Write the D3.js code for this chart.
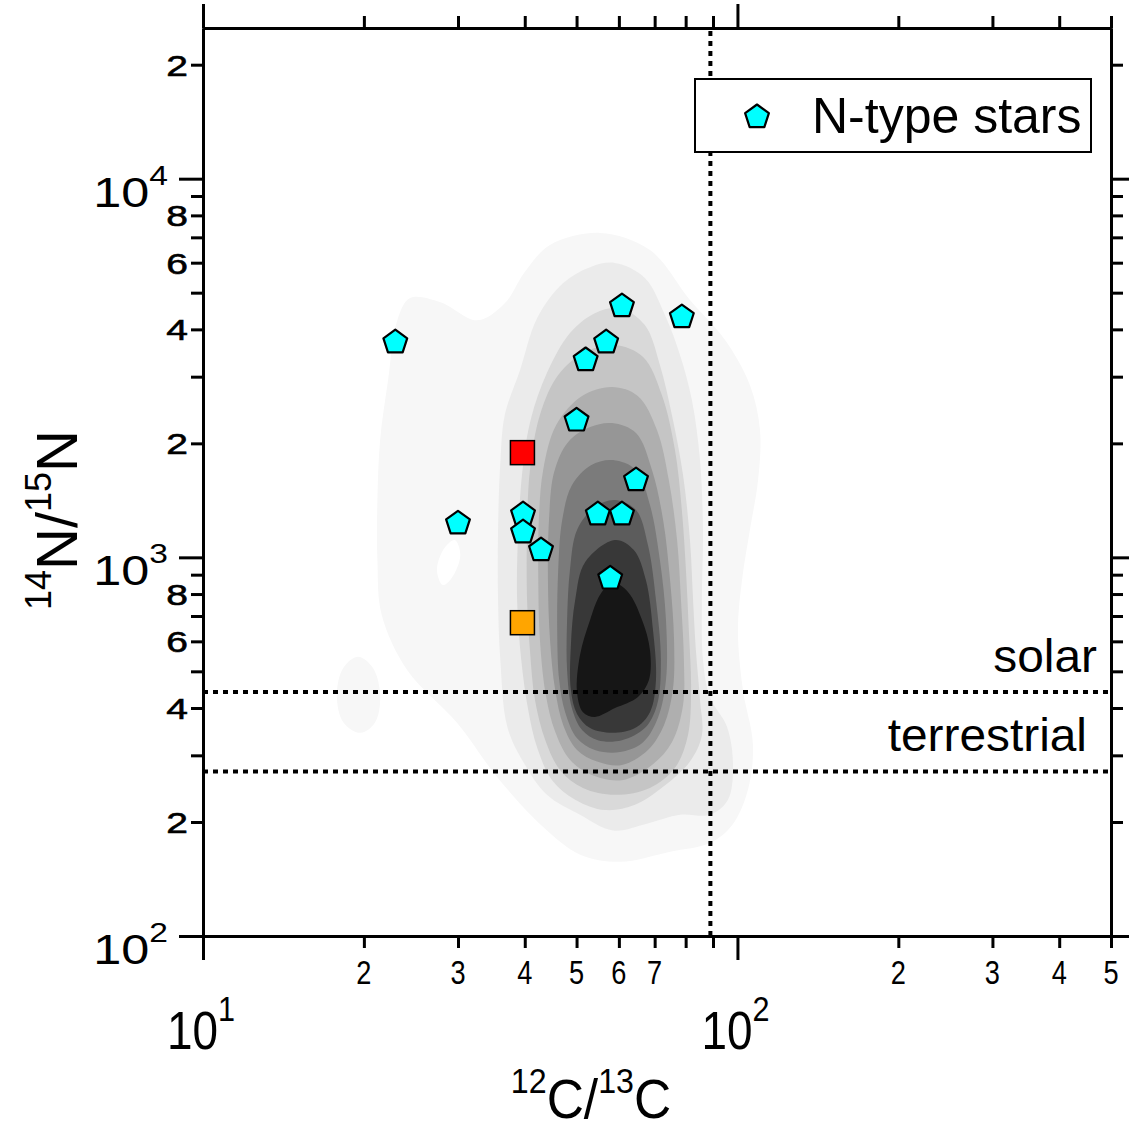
<!DOCTYPE html>
<html><head><meta charset="utf-8">
<script src="https://cdn.jsdelivr.net/npm/d3@7"></script>
<style>
body{margin:0;background:#fff}
svg{display:block}
text{font-family:"Liberation Sans",Arial,sans-serif;fill:#000}
</style>
</head><body>
<svg id="chart" width="1129" height="1131"></svg>
<script>
// ---------- data ----------
// N-type stars: 12C/13C and 14N/15N
const starC = [22.9, 30.0, 39.7, 39.7, 42.9, 50.0, 52.0, 56.8, 60.8, 78.7, 54.8, 60.8, 64.6, 57.8];
const starN = [3700, 1230, 1300, 1165, 1045, 2300, 3320, 3700, 4610, 4310, 1300, 1300, 1600, 880];
// two individual objects (squares)
const squareC = [39.6, 39.6];
const squareN = [1890, 672];
const squareColors = ["#ff0000", "#ffa500"];
// reference ratios
const solarC = 89;
const solarN = 441;
const terrestrialN = 272;
// axis ticks
const xMajor = [10, 100];
const xMinor = [20,30,40,50,60,70,80,90,200,300,400,500];
const xMinorLabelVals = [20,30,40,50,60,70,200,300,400,500];
const xMinorLabelText = ["2","3","4","5","6","7","2","3","4","5"];
const xMajorExp = ["1","2"];
const yMajor = [100, 1000, 10000];
const yMinor = [200,300,400,500,600,700,800,900,2000,3000,4000,5000,6000,7000,8000,9000,20000];
const yMinorLabelVals = [200,400,600,800,2000,4000,6000,8000,20000];
const yMinorLabelText = ["2","4","6","8","2","4","6","8","2"];
const yMajorExp = ["2","3","4"];

// density contour levels (outer -> inner), vertices as [12C/13C, 14N/15N]
const level1 = [[55.3,7190],[68.6,6480],[81.5,4780],[94.8,3750],[105.5,2850],[110.2,2168],[109.3,1600],[105.5,1181],[102,871],[100.2,643],[102.4,446],[106.9,320],[104.6,243],[97.7,196],[88.8,176],[74.8,167],[60.3,157],[50.8,164],[43.3,194],[35.5,263],[29.9,365],[24.1,504],[21.6,704],[21.2,984],[21.2,1417],[21.45,2040],[22.2,2940],[23.1,4230],[24.4,4840],[27.8,4720],[32.6,4230],[36.7,4690],[40.0,5670],[44.6,6680]];
const level1Blob = [[19.5,546],[20.8,510],[21.45,433],[21.0,367],[19.7,344],[18.3,367],[17.8,433],[18.3,510]];
const level1Hole = [[29.6,1111],[30.3,1014],[29.2,882],[28.1,845],[27.4,926],[28.3,1058]];
const level2 = [[59.0,5990],[67.1,5470],[73.2,4360],[78.1,3420],[82.2,2600],[85.1,1807],[86.2,1181],[85.8,771],[86.2,536],[88.8,428],[95.6,357],[98.1,283],[96.0,229],[88.8,209],[78.1,209],[67.7,198],[58.5,190],[50.75,209],[44.0,236],[39.7,289],[37.1,357],[36.0,536],[35.65,771],[35.65,1181],[36.0,1774],[36.7,2375],[39.2,3123],[42.2,4285],[47.2,5300],[53.0,5840]];
const level3 = [[60.3,4550],[67.1,4105],[71.6,3220],[75.4,2375],[79.1,1650],[81.5,1111],[82.6,771],[83.6,569],[85.1,420],[85.8,339],[81.5,289],[73.2,250],[64.3,222],[56.5,215],[49.7,229],[45.0,258],[42.2,314],[40.6,395],[39.4,536],[38.7,771],[38.9,1181],[39.7,1752],[41.1,2330],[44.0,3066],[48.6,3910],[54.1,4415]];
const level4 = [[59.0,3636],[66.6,3380],[72.2,2682],[76.4,1920],[78.7,1333],[80.1,926],[81.1,643],[81.9,446],[80.8,339],[76.4,278],[68.6,246],[59.0,236],[51.4,246],[46.6,274],[43.7,329],[41.8,420],[40.9,569],[40.4,771],[40.4,1181],[40.9,1700],[42.7,2375],[46.2,3030],[51.9,3484]];
const level5 = [[58.3,2816],[65.1,2666],[70.7,2168],[74.4,1600],[77.1,1111],[78.4,771],[79.4,536],[79.1,407],[75.4,325],[69.2,283],[60.8,258],[53.4,266],[48.6,292],[45.6,346],[43.8,433],[42.7,605],[42.4,871],[42.5,1255],[43.3,1700],[45.8,2235],[51.2,2666]];
const level6 = [[58.3,2262],[64.6,2129],[69.2,1700],[72.6,1255],[74.8,871],[76.1,605],[75.7,446],[72.9,361],[68.0,310],[60.8,283],[54.6,289],[50.1,310],[47.2,361],[45.6,446],[44.6,605],[44.2,871],[44.4,1255],[45.4,1680],[48.2,2015],[53.0,2208]];
const level7 = [[58.5,1807],[64.6,1700],[68.6,1374],[71.6,984],[73.5,683],[73.5,474],[71.0,377],[66.6,325],[60.3,306],[54.1,310],[50.1,333],[47.6,390],[46.4,474],[46.0,643],[46.2,926],[47.0,1255],[49.0,1551],[53.2,1752]];
const level8 = [[59.0,1417],[64.6,1333],[68.0,1078],[70.4,771],[71.9,536],[70.7,407],[67.1,354],[60.8,329],[54.8,329],[51.2,350],[49.0,400],[48.0,504],[48.0,683],[48.6,926],[50.1,1181],[54.1,1358]];
const level9 = [[59.0,1111],[64.0,1045],[67.4,871],[69.5,643],[70.4,474],[68.6,390],[64.3,354],[58.25,344],[53.0,354],[50.1,386],[48.8,446],[48.8,587],[49.7,771],[51.9,972]];
const level10 = [[58.25,860],[62.4,810],[66.3,683],[68.6,569],[68.3,474],[65.15,428],[59.0,400],[54.1,379],[51.4,390],[50.1,441],[50.75,552],[53.0,683],[55.3,795]];
const levelRings = [[level1, level1Blob, level1Hole],[level2],[level3],[level4],[level5],[level6],[level7],[level8],[level9],[level10]];
const levelColors = ["#f7f7f7","#ebebeb","#d9d9d9","#c5c5c5","#afafaf","#969696","#7b7b7b","#5c5c5c","#383838","#161616"];

// ---------- chart ----------
const svg = d3.select("#chart");
const L = 203, T = 28, W = 908, H = 908;
const x = d3.scaleLog().domain([10, 500]).range([L, L + W]);
const y = d3.scaleLog().domain([100, 25000]).range([T + H, T]);

// contours
const ring = d3.line().x(d => x(d[0])).y(d => y(d[1])).curve(d3.curveCatmullRomClosed.alpha(0.5));
svg.append("g").selectAll("path").data(levelRings).join("path")
  .attr("d", rs => rs.map(r => ring(r)).join(""))
  .attr("fill", (d, i) => levelColors[i])
  .attr("fill-rule", "evenodd");

// reference dotted lines
const dot = svg.append("g").attr("stroke", "#000").attr("stroke-width", 4).attr("stroke-dasharray", "5,5");
dot.append("line").attr("x1", x(solarC)).attr("x2", x(solarC)).attr("y1", y.range()[1] + 3).attr("y2", y.range()[0]);
dot.append("line").attr("x1", x.range()[0]).attr("x2", x.range()[1]).attr("y1", y(solarN)).attr("y2", y(solarN));
dot.append("line").attr("x1", x.range()[0]).attr("x2", x.range()[1]).attr("y1", y(terrestrialN)).attr("y2", y(terrestrialN));

svg.append("text").attr("transform", `translate(1097,${y(solarN) - 20}) scale(1.04,1)`).attr("text-anchor", "end").attr("font-size", 46).text("solar");
svg.append("text").attr("transform", `translate(1087,${y(terrestrialN) - 20}) scale(1.04,1)`).attr("text-anchor", "end").attr("font-size", 46).text("terrestrial");

// markers
const pent = r => {
  const p = d3.range(5).map(k => { const a = -Math.PI / 2 + k * 2 * Math.PI / 5; return [r * Math.cos(a), r * Math.sin(a)]; });
  return "M" + p.map(q => q.join(",")).join("L") + "Z";
};
svg.append("g").selectAll("rect").data(squareC).join("rect")
  .attr("x", (d, i) => x(d) - 12).attr("y", (d, i) => y(squareN[i]) - 12)
  .attr("width", 24).attr("height", 24)
  .attr("fill", (d, i) => squareColors[i]).attr("stroke", "#000").attr("stroke-width", 1.5);
svg.append("g").selectAll("path").data(starC).join("path")
  .attr("transform", (d, i) => `translate(${x(d)},${y(starN[i])})`)
  .attr("d", pent(12.5)).attr("fill", "#00ffff").attr("stroke", "#000").attr("stroke-width", 2.2).attr("stroke-linejoin", "round");

// axes
function styleAxis(g) {
  g.selectAll(".domain").attr("stroke", "#000").attr("stroke-width", 3);
  g.selectAll(".tick line").attr("stroke", "#000").attr("stroke-width", 3);
  g.selectAll(".tick text").remove();
}
const axes = [
  [d3.axisBottom(x), `translate(0,${T + H})`, xMajor, xMinor],
  [d3.axisTop(x), `translate(0,${T})`, xMajor, xMinor],
  [d3.axisLeft(y), `translate(${L},0)`, yMajor, yMinor],
  [d3.axisRight(y), `translate(${L + W},0)`, yMajor, yMinor]
];
axes.forEach(([ax, tr, maj, min]) => {
  svg.append("g").attr("transform", tr).call(ax.tickValues(min).tickSize(12).tickSizeOuter(0).tickFormat("")).call(styleAxis);
  svg.append("g").attr("transform", tr).call(ax.tickValues(maj).tickSize(24).tickSizeOuter(0).tickFormat("")).call(styleAxis);
});

// x tick labels
svg.append("g").selectAll("text").data(xMinorLabelVals).join("text")
  .attr("transform", d => `translate(${x(d)},984) scale(0.8,1)`)
  .attr("text-anchor", "middle").attr("font-size", 34)
  .text((d, i) => xMinorLabelText[i]);
xMajor.forEach((v, i) => {
  const t = svg.append("text").attr("transform", `translate(${x(v) - 2},1049) scale(0.85,1)`)
    .attr("text-anchor", "middle").attr("font-size", 54);
  t.append("tspan").text("10");
  t.append("tspan").attr("dy", -28).attr("font-size", 36).text(xMajorExp[i]);
});
// y tick labels
svg.append("g").selectAll("text").data(yMinorLabelVals).join("text")
  .attr("transform", d => `translate(188,${y(d) + 11}) scale(1.3,1)`)
  .attr("text-anchor", "end").attr("font-size", 30)
  .attr("stroke", "#000").attr("stroke-width", 0.6)
  .text((d, i) => yMinorLabelText[i]);
yMajor.forEach((v, i) => {
  const t = svg.append("text").attr("transform", `translate(168,${y(v) + 28}) scale(1.2,1)`)
    .attr("text-anchor", "end").attr("font-size", 42);
  t.append("tspan").text("10");
  t.append("tspan").attr("dy", -22).attr("font-size", 28).text(yMajorExp[i]);
});

// axis titles
const xt = svg.append("text").attr("transform", "translate(591,1118) scale(0.92,1)").attr("text-anchor", "middle").attr("font-size", 56);
xt.append("tspan").attr("font-size", 35).attr("dy", -25).text("12");
xt.append("tspan").attr("dy", 25).text("C/");
xt.append("tspan").attr("font-size", 35).attr("dy", -25).text("13");
xt.append("tspan").attr("dy", 25).text("C");
const yt = svg.append("text").attr("transform", "translate(77,520) rotate(-90)").attr("text-anchor", "middle").attr("font-size", 58);
yt.append("tspan").attr("font-size", 36).attr("dy", -26).text("14");
yt.append("tspan").attr("dy", 26).text("N/");
yt.append("tspan").attr("font-size", 36).attr("dy", -26).text("15");
yt.append("tspan").attr("dy", 26).text("N");

// legend
const lg = svg.append("g");
lg.append("rect").attr("x", 695).attr("y", 79).attr("width", 396).attr("height", 73)
  .attr("fill", "#fff").attr("stroke", "#000").attr("stroke-width", 2);
lg.append("path").attr("transform", "translate(757,117)").attr("d", pent(12.5))
  .attr("fill", "#00ffff").attr("stroke", "#000").attr("stroke-width", 2.2).attr("stroke-linejoin", "round");
lg.append("text").attr("x", 812).attr("y", 133).attr("font-size", 50).text("N-type stars");
</script>
</body></html>
